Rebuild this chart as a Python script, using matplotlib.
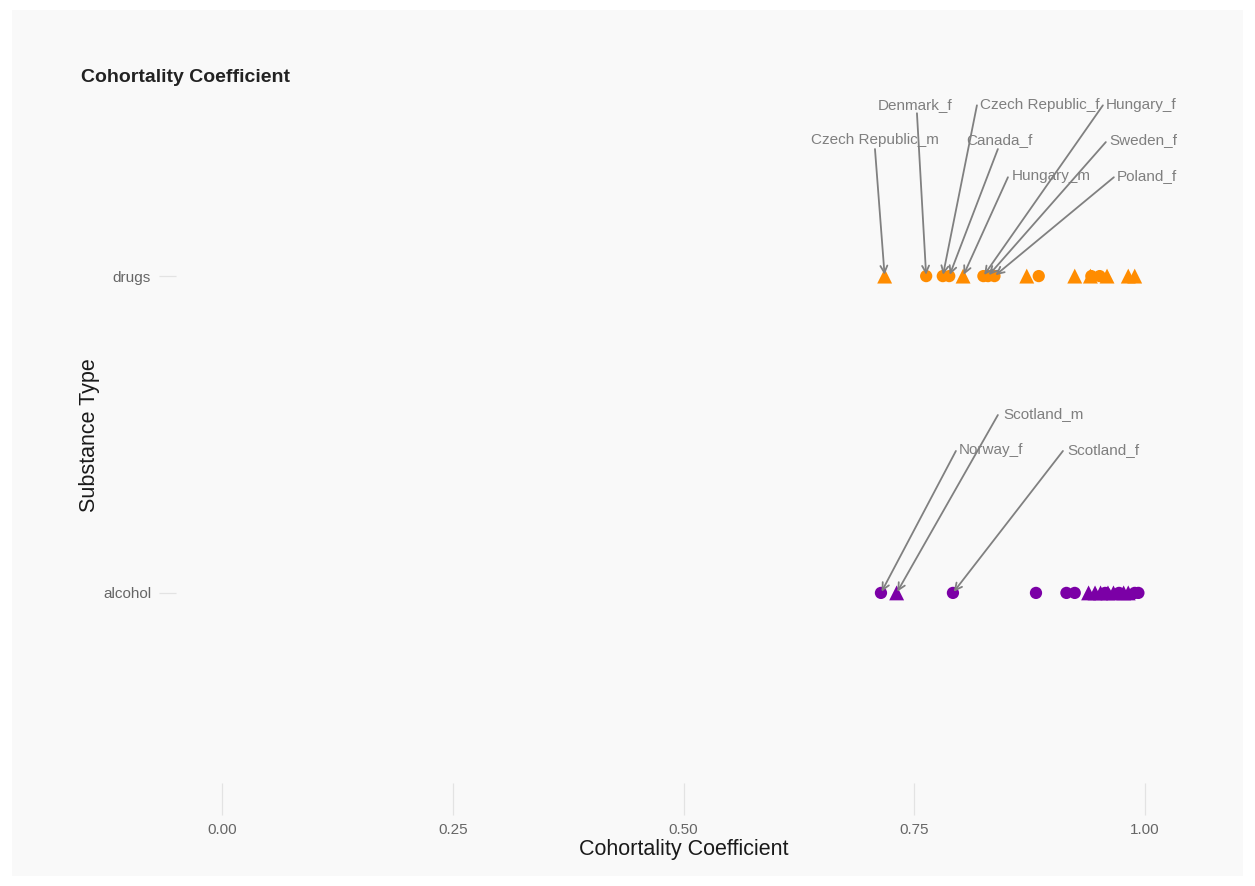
import matplotlib
matplotlib.use("Agg")
import matplotlib.pyplot as plt
from matplotlib.patches import Rectangle

plt.rcParams["font.family"] = ["Liberation Sans", "DejaVu Sans"]

# ---- data -------------------------------------------------------------
substances = ["alcohol", "drugs"]

drugs_names = ["Czech Republic_m", "Denmark_f", "Czech Republic_f", "Canada_f",
               "Hungary_m", "Hungary_f", "Sweden_f", "Poland_f",
               "", "", "", "", "", "", "", "", ""]
drugs_values = [0.718, 0.763, 0.781, 0.788, 0.803, 0.825, 0.830, 0.837,
                0.872, 0.885, 0.924, 0.941, 0.942, 0.951, 0.959, 0.982, 0.989]
drugs_sex = ["m", "f", "f", "f", "m", "f", "f", "f",
             "m", "f", "m", "m", "f", "f", "m", "m", "m"]

alcohol_names = ["Norway_f", "Scotland_m", "Scotland_f",
                 "", "", "", "", "", "", "", "", "", "", "", "", "", ""]
alcohol_values = [0.714, 0.731, 0.792,
                  0.882, 0.915, 0.924, 0.939, 0.946, 0.952, 0.957, 0.960,
                  0.966, 0.972, 0.977, 0.982, 0.989, 0.993]
alcohol_sex = ["f", "m", "f",
               "f", "f", "f", "m", "m", "m", "f", "m",
               "m", "f", "m", "m", "f", "f"]

x_ticks = [0.0, 0.25, 0.50, 0.75, 1.0]
x_tick_labels = ["0.00", "0.25", "0.50", "0.75", "1.00"]

# label placement: (text left x, text y, segment start x, segment start y)
label_layout = {
    "Denmark_f":        (0.7107, 2.539, 0.7530, 2.514),
    "Czech Republic_f": (0.8212, 2.539, 0.8180, 2.539),
    "Hungary_f":        (0.9577, 2.539, 0.9545, 2.539),
    "Czech Republic_m": (0.6381, 2.429, 0.7075, 2.401),
    "Canada_f":         (0.8061, 2.429, 0.8407, 2.401),
    "Sweden_f":         (0.9610, 2.429, 0.9577, 2.423),
    "Hungary_m":        (0.8559, 2.315, 0.8516, 2.312),
    "Poland_f":         (0.9697, 2.315, 0.9664, 2.312),
    "Scotland_m":       (0.8462, 1.565, 0.8407, 1.5615),
    "Norway_f":         (0.7985, 1.451, 0.7952, 1.448),
    "Scotland_f":       (0.9155, 1.451, 0.9112, 1.448),
}

colors = {"drugs": "#FF8C00", "alcohol": "#7B00A6"}
markers = {"f": ("o", 78), "m": ("^", 115)}

# ---- figure -----------------------------------------------------------
W, H = 1255, 886
fig = plt.figure(figsize=(W / 100, H / 100), dpi=100)
fig.patch.set_facecolor("white")
fig.patches.append(Rectangle((12 / W, 10 / H), (1243 - 12) / W, (876 - 10) / H,
                             transform=fig.transFigure, facecolor="#f9f9f9",
                             edgecolor="none", zorder=-10))

ax = fig.add_axes([176 / W, 103 / H, (1191 - 176) / W, (783 - 86) / H])
ax.set_facecolor("#f9f9f9")
for s in ax.spines.values():
    s.set_visible(False)

ax.set_xlim(-0.05, 1.05)
ax.set_ylim(0.4, 2.6)

groups = {
    "alcohol": (alcohol_names, alcohol_values, alcohol_sex),
    "drugs": (drugs_names, drugs_values, drugs_sex),
}

for yi, sub in enumerate(substances, start=1):
    names, vals, sexes = groups[sub]
    for sex in ("f", "m"):
        xs = [v for v, s in zip(vals, sexes) if s == sex]
        mk, size = markers[sex]
        ax.scatter(xs, [yi] * len(xs), marker=mk, s=size, color=colors[sub],
                   edgecolors="none", zorder=3)
    for name, v in zip(names, vals):
        if not name:
            continue
        tx, ty, sx, sy = label_layout[name]
        ax.annotate("", xy=(v, yi), xytext=(sx, sy),
                    arrowprops=dict(arrowstyle="->,head_length=0.5,head_width=0.25",
                                    color="#808080", lw=1.3,
                                    shrinkA=0, shrinkB=1),
                    zorder=4)
        ax.text(tx, ty, name, ha="left", va="center", color="#7f7f7f",
                fontsize=11, zorder=5)

ax.set_xticks(x_ticks)
ax.set_xticklabels(x_tick_labels)
ax.set_yticks([1, 2])
ax.set_yticklabels(substances)
ax.tick_params(axis="x", length=23, width=0.9, color="#e3e3e3", pad=6,
               labelsize=11, labelcolor="#666666")
ax.tick_params(axis="y", length=12, width=0.9, color="#e3e3e3", pad=6,
               labelsize=11, labelcolor="#666666")

ax.set_xlabel("Cohortality Coefficient", fontsize=15.5, color="#1a1a1a")
ax.xaxis.set_label_coords((684 - 176) / 1015, (783 - 850) / 697)
ax.xaxis.label.set_va("center")
ax.set_ylabel("Substance Type", fontsize=15.5, color="#1a1a1a")
ax.yaxis.set_label_coords((89 - 176) / 1015, (783 - 435) / 697)
ax.yaxis.label.set_va("center")

fig.text(81 / W, 1 - 78 / H, "Cohortality Coefficient", fontsize=14,
         fontweight="bold", color="#222222", ha="left", va="center")

fig.savefig("out.png", dpi=100, facecolor=fig.get_facecolor())
